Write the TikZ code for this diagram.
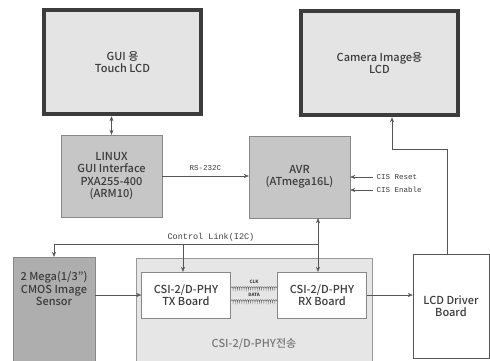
\documentclass[tikz,border=0pt]{standalone}
\usepackage{fontspec}
\setmainfont{Noto Sans CJK KR}[UprightFont=* Medium]
\newfontfamily\lblfont{Liberation Mono}
\usepackage{tikz}
\usetikzlibrary{positioning,arrows.meta,decorations.pathmorphing}
\definecolor{ink}{HTML}{3C3C3C}
\definecolor{wire}{HTML}{555555}
\definecolor{lcdfill}{HTML}{E4E4E4}
\definecolor{cpufill}{HTML}{C6C6C6}
\definecolor{senfill}{HTML}{AEAEAE}
\definecolor{csifill}{HTML}{E6E6E6}

\begin{document}
\begin{tikzpicture}[
    x=1pt, y=-1pt,
    font=\fontsize{11}{12.5}\selectfont, text=ink,
    box/.style={draw=wire!70, align=center, inner sep=0pt},
    lcd/.style={box, draw=ink, line width=4.5pt, fill=lcdfill, minimum width=157pt, minimum height=104pt},
    cpu/.style={box, fill=cpufill, minimum width=101pt, minimum height=82pt},
    board/.style={box, fill=white, minimum width=89pt, minimum height=46pt},
    arr/.style={-{Stealth[length=5pt, width=4pt]}, wire, thin},
    dblarr/.style={{Stealth[length=5pt, width=4pt]}-{Stealth[length=5pt, width=4pt]}, wire, thick},
    pair/.style={wire, decorate, decoration={coil, amplitude=1.4pt, segment length=2.2pt}},
    lbl/.style={font=\lblfont\fontsize{7.5}{8}\selectfont, text=ink},
  ]
    \useasboundingbox (0,0) rectangle (490,360);

    % displays
    \node[lcd] (gui) at (122.5,62) {GUI 용\\Touch LCD};
    \node[lcd] (cam) at (379.5,63) {Camera Image용\\LCD};

    % processors
    \node[cpu] (linux) at (111.5,176) {LINUX\\GUI Interface\\PXA255-400\\(ARM10)};
    \node[cpu] (avr) at (299.5,177) {AVR\\(ATmega16L)};

    % csi-2 transport
    \node[box, draw=wire!60, fill=csifill, minimum width=236pt, minimum height=106pt] (csi) at (254,311) {};
    \node[text=ink!70] (csilbl) at (254,344) {CSI-2/D-PHY전송};
    \node[board] (tx) at (186,295) {CSI-2/D-PHY\\TX Board};
    \node[board] (rx) at (322,295) {CSI-2/D-PHY\\RX Board};
    \node[box, fill=senfill, minimum width=82pt, minimum height=106pt] (sen) at (54,310) {};
    \node[align=center] (senlbl) at (54,289) {2 Mega(1/3")\\CMOS Image\\Sensor};
    \node[box, draw=wire, fill=white, minimum width=76pt, minimum height=104pt] (drv) at (451,306) {LCD Driver\\Board};

    % links
    \draw[dblarr] (linux.north) -- (linux.north |- gui.south);
    \draw[arr] (linux.east) -- (linux.east -| avr.west) node[midway, above=2pt, lbl] {RS-232C};

    \coordinate (rst) at (373,177);
    \coordinate (ena) at (373,190);
    \draw[arr] (rst) -- (rst -| avr.east) node[pos=0, right, lbl] {CIS Reset};
    \draw[arr] (ena) -- (ena -| avr.east) node[pos=0, right, lbl] {CIS Enable};

    \coordinate (ctl) at (318,244);
    \coordinate (txj) at (183,244);
    \draw[arr] (ctl) -- (ctl |- avr.south);
    \draw[arr] (ctl) -- (ctl |- rx.north);
    \draw[arr] (ctl) -| (sen.north);
    \draw[arr] (txj) -- (txj |- tx.north);
    \node[lbl, font=\lblfont\fontsize{8.5}{9}\selectfont] (ctllbl) at (211,237) {Control Link(I2C)};

    \draw[arr] (sen.east |- tx.west) -- (tx.west);
    \draw[arr] (rx.east) -- (rx.east -| drv.west);

    \coordinate (bend) at (392,149);
    \draw[arr] ([xshift=-4pt]drv.north) |- (bend) -- (bend |- cam.south);

    % twisted pairs
    \coordinate (clk) at (0,288);
    \coordinate (dat) at (0,301);
    \draw[pair] (tx.east |- clk) -- (rx.west |- clk);
    \draw[pair] (tx.east |- dat) -- (rx.west |- dat);
    \node[font=\fontsize{4.5}{5}\selectfont\bfseries] (clklbl) at (254,282) {CLK};
    \node[font=\fontsize{4.5}{5}\selectfont\bfseries] (datlbl) at (254,295) {DATA};
  \end{tikzpicture}
\end{document}
